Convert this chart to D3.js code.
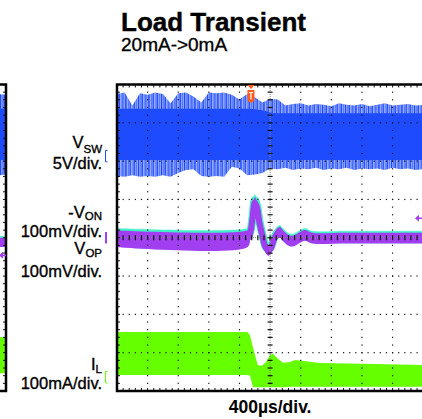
<!DOCTYPE html>
<html>
<head>
<meta charset="utf-8">
<title>Load Transient</title>
<style>
body {
	margin: 0;
	background-color: #ffffff;
}
svg {
	display: block;
	font-family: "Liberation Sans", Arial, sans-serif;
}
</style>
</head>
<body>
<script src="https://d3js.org/d3.v7.min.js"></script>
<script>

var w = 422;
var h = 419;

// time axis in µs, 400µs/div over 10 divisions
var timeMax = 4000;
var triggerTime = 1750;

// V_SW (5V/div), spike envelope sampled every 100µs
var swTime = [0, 100, 200, 300, 400, 500, 600, 700, 800, 900, 1000, 1100, 1200, 1300, 1400,
              1500, 1600, 1700, 1800, 1900, 2000, 2100, 2200, 2300, 2400, 2500, 2600, 2700,
              2800, 2900, 3000, 3100, 3200, 3300, 3400, 3500, 3600, 3700, 3800, 3900, 4000];
var swHi = [8.1, 8.3, 6.6, 8.2, 8.0, 8.3, 8.1, 6.9, 8.2, 8.3, 7.8, 7.0, 8.3, 8.2, 8.3,
            8.0, 7.4, 8.1, 7.7, 7.0, 7.5, 7.4, 6.6, 6.8, 6.9, 6.6, 6.8, 6.7,
            6.5, 6.9, 6.7, 6.6, 6.8, 6.5, 6.7, 6.9, 6.6, 6.7, 6.8, 6.6, 6.7];
var swLo = [-2.6, -2.7, -2.5, -2.7, -2.6, -2.7, -2.5, -2.7, -2.2, -1.8, -1.7, -2.6, -2.7, -2.6, -2.7,
            -1.4, -1.6, -2.5, -2.4, -2.2, -1.6, -1.7, -1.5, -1.8, -1.6, -1.7, -1.5, -1.8,
            -1.6, -1.7, -1.5, -1.8, -1.6, -1.7, -1.6, -1.8, -1.5, -1.7, -1.6, -1.8, -1.7];
// dense part of the V_SW band
var swCoreTime = [0, 1750, 1900, 2050, 4000];
var swCoreHi = [6.2, 6.2, 6.0, 5.6, 5.6];
var swCoreLo = [-0.5, -0.5, -0.5, -0.5, -0.5];

// -V_ON and V_OP (100mV/div, AC), band centre and half width in mV
var vTime = [0, 1700, 1740, 1770, 1800, 1830, 1860, 1900, 1940, 1980, 2010, 2050,
             2090, 2130, 2170, 2220, 2280, 2350, 2420, 2460, 2520, 2600, 3000, 4000];
var vonMid = [-3, -3, 12, 50, 92, 78, 40, 5, -25, -33, -28, -5,
              10, 14, 5, -4, -9, -4, 4, 6, 1, -2, -1, -1];
var vonHalf = [22, 22, 16, 14, 14, 14, 14, 14, 14, 14, 14, 14,
               14, 14, 14, 14, 14, 14, 14, 14, 14, 14, 14, 14];
var vopMid = [1, 1, 15, 53, 98, 83, 44, 8, -22, -30, -25, -2,
              13, 17, 8, -1, -6, -1, 7, 9, 4, 1, 2, 2];
var vopHalf = [23, 23, 17, 15, 15, 15, 15, 15, 15, 15, 15, 15,
               15, 15, 15, 15, 15, 15, 15, 15, 15, 15, 15, 15];
var triggerLevel = 51;

// I_L (100mA/div), band top and bottom in mA
var iTime = [0, 1700, 1737, 1777, 1838, 1893, 1946, 1998, 2038, 2090, 2168, 2260, 2325, 2417, 2652, 3200, 4000];
var iHi = [118, 118, 110, 77, 32, 30, 40, 58, 61, 50, 38, 40, 45, 43, 37, 35, 32];
var iLo = [6, 6, 4, -26, -26, -26, -26, -26, -26, -26, -26, -25, -25, -25, -25, -25, -25];

// right edge of the neighbouring screen shot
var prevTime = [3800, 4000];
var prevSwHi = [8.2, 8.0];
var prevSwLo = [-2.6, -2.4];
var prevVonMid = [-12, -12];
var prevVopMid = [-9, -9];
var prevHalf = [12, 12];
var prevIHi = [106, 104];
var prevILo = [10, 11];
var prevTriggerLevel = -46;

// channel offsets (divisions from the bottom) and scale per division
var swOffset = 6.13, swPerDiv = 5;
var vOffset = 4, vPerDiv = 100;
var iOffset = 0.36, iPerDiv = 100;

var blue = "#1f4bff";
var blueLight = "#93a9ff";
var purple = "#a03ef0";
var cyan = "#42f0c6";
var green = "#66ff00";
var orange = "#ff5b1a";

var svg = d3.select("body")
            .append("svg")
            .attr("width", w)
            .attr("height", h);

var x = d3.scaleLinear().domain([0, timeMax]).range([117, 423.2]);
var xPrev = d3.scaleLinear().domain([0, timeMax]).range([-300.2, 6]);
var xDiv = d3.scaleLinear().domain([0, 10]).range([117, 423.2]);
var y = d3.scaleLinear().domain([0, 8]).range([391, 84.5]);

function chan(offset, perDiv) {
  return function(v) { return y(offset + v / perDiv); };
}
var ySw = chan(swOffset, swPerDiv);
var yV = chan(vOffset, vPerDiv);
var yI = chan(iOffset, iPerDiv);

var defs = svg.append("defs");
defs.append("clipPath").attr("id", "clipMain")
    .append("rect")
    .attr("x", x(0)).attr("y", y(8))
    .attr("width", x(timeMax) - x(0)).attr("height", y(0) - y(8));
defs.append("clipPath").attr("id", "clipPrev")
    .append("rect")
    .attr("x", -10).attr("y", y(8))
    .attr("width", xPrev(timeMax) + 10).attr("height", y(0) - y(8));

// uneven striped fill for the spiky part of the switch node trace
var stripes = [[0, 1.2, 1], [2.1, 0.7, 0.6], [3.5, 1.5, 0.9], [6, 0.6, 0.5], [7.4, 1, 1],
               [9.8, 2, 0.8], [13, 0.8, 0.6], [14.6, 1.2, 1], [17, 0.6, 0.5], [18.5, 1.6, 0.9],
               [21.3, 0.8, 0.7]];
var pat = defs.append("pattern")
    .attr("id", "swSpikes")
    .attr("patternUnits", "userSpaceOnUse")
    .attr("width", 23).attr("height", 40);
pat.append("rect").attr("width", 23).attr("height", 40).attr("fill", blueLight);
pat.selectAll("rect.s")
    .data(stripes)
    .enter()
    .append("rect")
    .attr("class", "s")
    .attr("x", function(d) { return d[0]; })
    .attr("width", function(d) { return d[1]; })
    .attr("height", 40)
    .attr("fill", blue)
    .attr("opacity", function(d) { return d[2]; });

function band(times, lo, hi, xs, ys, curve) {
  return d3.area()
    .x(function(d, i) { return xs(times[i]); })
    .y0(function(d, i) { return ys(lo[i]); })
    .y1(function(d, i) { return ys(hi[i]); })
    .curve(curve || d3.curveLinear)(times);
}

var smooth = d3.curveCatmullRom.alpha(0.5);

function midBand(times, mid, half, extra, xs) {
  var lo = mid.map(function(m, i) { return m - half[i] - extra; });
  var hi = mid.map(function(m, i) { return m + half[i] + extra; });
  return band(times, lo, hi, xs, yV, smooth);
}

function midLine(times, mid, xs) {
  return d3.line()
    .x(function(d, i) { return xs(times[i]); })
    .y(function(d, i) { return yV(mid[i]); })
    .curve(smooth)(times);
}

function drawTraces(g, xs, d) {
  g.append("path").attr("d", band(d.swT, d.swLo, d.swHi, xs, ySw)).attr("fill", "url(#swSpikes)");
  g.append("path").attr("d", band(d.coreT, d.coreLo, d.coreHi, xs, ySw)).attr("fill", blue);

  g.append("path").attr("d", midBand(d.vT, d.vopMid, d.vopHalf, 2, xs)).attr("fill", cyan).attr("opacity", 0.35);
  g.append("path").attr("d", midBand(d.vT, d.vopMid, d.vopHalf, 0, xs)).attr("fill", cyan);
  g.append("path").attr("d", midLine(d.vT, d.vopMid, xs))
      .attr("fill", "none").attr("stroke", cyan).attr("stroke-width", 8).attr("stroke-linejoin", "round");
  g.append("path").attr("d", midBand(d.vT, d.vonMid, d.vonHalf, 0, xs)).attr("fill", purple);
  g.append("path").attr("d", midLine(d.vT, d.vonMid, xs))
      .attr("fill", "none").attr("stroke", purple).attr("stroke-width", 6).attr("stroke-linejoin", "round");

  g.append("path").attr("d", band(d.iT, d.iLo, d.iHi, xs, yI)).attr("fill", green);
}

var mainG = svg.append("g").attr("clip-path", "url(#clipMain)");
drawTraces(mainG, x, {
  swT: swTime, swLo: swLo, swHi: swHi,
  coreT: swCoreTime, coreLo: swCoreLo, coreHi: swCoreHi,
  vT: vTime, vonMid: vonMid, vonHalf: vonHalf, vopMid: vopMid, vopHalf: vopHalf,
  iT: iTime, iLo: iLo, iHi: iHi
});

var prevG = svg.append("g").attr("clip-path", "url(#clipPrev)");
drawTraces(prevG, xPrev, {
  swT: prevTime, swLo: prevSwLo, swHi: prevSwHi,
  coreT: prevTime, coreLo: [-0.5, -0.5], coreHi: [6.2, 6.2],
  vT: prevTime, vonMid: prevVonMid, vonHalf: prevHalf, vopMid: prevVopMid, vopHalf: [13, 13],
  iT: prevTime, iLo: prevILo, iHi: prevIHi
});

// graticule
var grid = svg.append("g");
var dots = [];
[1, 2, 3, 4, 6, 7, 8, 9].forEach(function(k) {
  d3.range(1, 40).forEach(function(j) { dots.push([xDiv(k), y(j / 5)]); });
});
[1, 2, 3, 5, 6, 7].forEach(function(k) {
  d3.range(1, 50).forEach(function(j) { dots.push([xDiv(j / 5), y(k)]); });
});
grid.selectAll("rect.dot")
    .data(dots)
    .enter()
    .append("rect")
    .attr("class", "dot")
    .attr("x", function(d) { return d[0] - 0.6; })
    .attr("y", function(d) { return d[1] - 0.6; })
    .attr("width", 1.2)
    .attr("height", 1.2)
    .attr("fill", "#111");

// centre cross with its fine ticks
grid.append("line")
    .attr("x1", xDiv(5)).attr("x2", xDiv(5))
    .attr("y1", y(0)).attr("y2", y(8))
    .attr("stroke", "#888").attr("stroke-width", 1).attr("stroke-dasharray", "1,1");
grid.append("line")
    .attr("x1", xDiv(0)).attr("x2", xDiv(10))
    .attr("y1", y(4)).attr("y2", y(4))
    .attr("stroke", "#888").attr("stroke-width", 1).attr("stroke-dasharray", "1,1");
grid.selectAll("line.vtick")
    .data(d3.range(1, 40))
    .enter()
    .append("line")
    .attr("x1", xDiv(5) - 2.5).attr("x2", xDiv(5) + 2.5)
    .attr("y1", function(j) { return y(j / 5); })
    .attr("y2", function(j) { return y(j / 5); })
    .attr("stroke", "#111").attr("stroke-width", 1.2);
grid.selectAll("line.htick")
    .data(d3.range(1, 50))
    .enter()
    .append("line")
    .attr("x1", function(j) { return xDiv(j / 5); })
    .attr("x2", function(j) { return xDiv(j / 5); })
    .attr("y1", y(4) - 2.5).attr("y2", y(4) + 2.5)
    .attr("stroke", "#111").attr("stroke-width", 1.2);

// frame edge ticks
grid.selectAll("line.etop")
    .data(d3.range(1, 50))
    .enter()
    .append("line")
    .attr("x1", function(j) { return xDiv(j / 5); })
    .attr("x2", function(j) { return xDiv(j / 5); })
    .attr("y1", y(8)).attr("y2", y(8) + 3)
    .attr("stroke", "#111").attr("stroke-width", 1);
grid.selectAll("line.ebot")
    .data(d3.range(1, 50))
    .enter()
    .append("line")
    .attr("x1", function(j) { return xDiv(j / 5); })
    .attr("x2", function(j) { return xDiv(j / 5); })
    .attr("y1", y(0)).attr("y2", y(0) - 3)
    .attr("stroke", "#111").attr("stroke-width", 1);
grid.selectAll("line.eleft")
    .data(d3.range(1, 40))
    .enter()
    .append("line")
    .attr("x1", xDiv(0)).attr("x2", xDiv(0) + 3)
    .attr("y1", function(j) { return y(j / 5); })
    .attr("y2", function(j) { return y(j / 5); })
    .attr("stroke", "#111").attr("stroke-width", 1);
grid.selectAll("line.eprev")
    .data(d3.range(1, 40))
    .enter()
    .append("line")
    .attr("x1", xPrev(timeMax)).attr("x2", xPrev(timeMax) - 3)
    .attr("y1", function(j) { return y(j / 5); })
    .attr("y2", function(j) { return y(j / 5); })
    .attr("stroke", "#111").attr("stroke-width", 1);

// frames
svg.append("rect")
    .attr("x", x(0)).attr("y", y(8))
    .attr("width", x(timeMax) - x(0) + 10).attr("height", y(0) - y(8))
    .attr("fill", "none").attr("stroke", "#000").attr("stroke-width", 2.5);
svg.append("path")
    .attr("d", "M-2," + y(8) + "H" + xPrev(timeMax) + "V" + y(0) + "H-2")
    .attr("fill", "none").attr("stroke", "#000").attr("stroke-width", 2.5);

// trigger position marker
var tx = x(triggerTime), ty = y(8) + 0.5;
svg.append("path")
    .attr("d", "M" + (tx - 3.5) + "," + ty + "H" + (tx + 3.5) + "L" + tx + "," + (ty + 4) + "Z" +
               "M" + (tx - 3.5) + "," + (ty + 5) + "H" + (tx + 3.5) + "V" + (ty + 13.5) +
               "Q" + (tx + 3.5) + "," + (ty + 17.5) + " " + tx + "," + (ty + 17.5) +
               "Q" + (tx - 3.5) + "," + (ty + 17.5) + " " + (tx - 3.5) + "," + (ty + 13.5) + "Z")
    .attr("fill", orange);
svg.append("path")
    .attr("d", "M" + (tx - 2.2) + "," + (ty + 7.5) + "H" + (tx + 2.2) + "M" + tx + "," + (ty + 7.5) + "V" + (ty + 14.5))
    .attr("stroke", "#fff").attr("stroke-width", 1.2);

// trigger level arrows
function levelArrow(x0, yy) {
  svg.append("path")
      .attr("d", "M" + x0 + "," + yy + "L" + (x0 + 4) + "," + (yy - 3.5) + "V" + (yy + 3.5) + "Z" +
                 "M" + (x0 + 3) + "," + (yy - 0.8) + "H" + (x0 + 7) + "V" + (yy + 0.8) + "H" + (x0 + 3) + "Z")
      .attr("fill", purple);
}
levelArrow(415, yV(triggerLevel));
levelArrow(-1, yV(prevTriggerLevel));

// channel ground markers
function bracket(yy, color) {
  svg.append("path")
      .attr("d", "M107.5," + (yy - 5.7) + "H105.5V" + (yy + 5.7) + "H107.5")
      .attr("fill", "none").attr("stroke", color).attr("stroke-width", 1);
}
bracket(ySw(0), blue);
bracket(yI(0), green);
svg.append("rect")
    .attr("x", 105).attr("y", yV(0) - 5.7)
    .attr("width", 2).attr("height", 11.4)
    .attr("fill", purple);

// channel labels
function label(base, sub, yy, subDy) {
  var t = svg.append("text")
      .attr("x", 102).attr("y", yy)
      .attr("text-anchor", "end")
      .attr("font-size", "16.5px")
      .attr("fill", "#000")
      .attr("stroke", "#000")
      .attr("stroke-width", 0.35);
  t.append("tspan").text(base);
  if (sub) {
    t.append("tspan").attr("font-size", "11.5px").attr("dy", subDy).text(sub);
  }
}
label("V", "SW", 148, 4.5);
label("5V/div.", null, 169);
label("-V", "ON", 217.5, 2.5);
label("100mV/div.", null, 236.5);
label("V", "OP", 254, 3);
label("100mV/div.", null, 276.5);
label("I", "L", 370, 3);
label("100mA/div.", null, 388.5);

// titles
svg.append("text")
    .attr("x", 121).attr("y", 31)
    .attr("font-size", "26px").attr("font-weight", "bold")
    .attr("stroke", "#000").attr("stroke-width", 0.4)
    .text("Load Transient");
svg.append("text")
    .attr("x", 121).attr("y", 50.5)
    .attr("font-size", "19px")
    .attr("stroke", "#000").attr("stroke-width", 0.35)
    .text("20mA->0mA");
svg.append("text")
    .attr("x", xDiv(5)).attr("y", 413)
    .attr("text-anchor", "middle")
    .attr("font-size", "17.5px").attr("font-weight", "bold")
    .text("400µs/div.");

</script>
</body>
</html>
